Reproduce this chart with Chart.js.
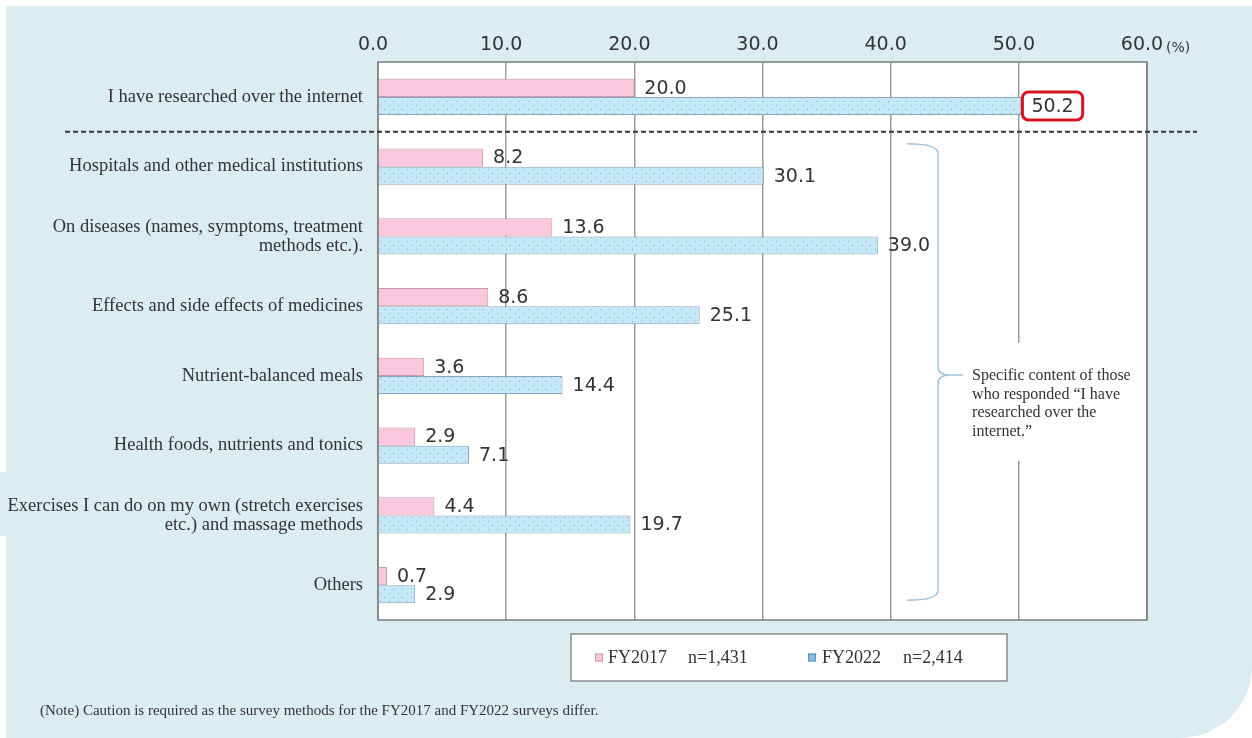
<!DOCTYPE html>
<html>
<head>
<meta charset="utf-8">
<script src="https://cdn.jsdelivr.net/npm/chart.js@4"></script>
<style>
  html, body { margin: 0; padding: 0; background: #fff; }
  canvas { display: block; }
</style>
</head>
<body>
<canvas id="surveyChart" width="1252" height="738"></canvas>
<script>
'use strict'

// ---- data ----
const categories = [
  'I have researched over the internet',
  'Hospitals and other medical institutions',
  ['On diseases (names, symptoms, treatment', 'methods etc.).'],
  'Effects and side effects of medicines',
  'Nutrient-balanced meals',
  'Health foods, nutrients and tonics',
  ['Exercises I can do on my own (stretch exercises', 'etc.) and massage methods'],
  'Others'
];
const fy2017 = [20.0, 8.2, 13.6, 8.6, 3.6, 2.9, 4.4, 0.7];
const fy2022 = [50.2, 30.1, 39.0, 25.1, 14.4, 7.1, 19.7, 2.9];
const seriesNames = ['FY2017', 'FY2022'];
const sampleSizes = ['n=1,431', 'n=2,414'];
const xTicks = [0, 10, 20, 30, 40, 50, 60];
const bracketText = ['Specific content of those', 'who responded \u201cI have', 'researched over the', 'internet.\u201d'];
const noteText = '(Note) Caution is required as the survey methods for the FY2017 and FY2022 surveys differ.';

const SANS = '"DejaVu Sans", sans-serif';
const SERIF = '"Liberation Serif", "Times New Roman", serif';
const TEXT = '#333';

// dotted light blue fill for FY2022
function dotPattern() {
  const c = document.createElement('canvas');
  c.width = 9; c.height = 8;
  const g = c.getContext('2d');
  g.fillStyle = '#c4e8f7';
  g.fillRect(0, 0, 9, 8);
  g.fillStyle = '#7aa6bf';
  g.fillRect(2, 1, 1, 1);
  g.fillRect(6, 5, 1, 1);
  return g.createPattern(c, 'repeat');
}

const pinkFill = '#f9c8dc';
const pinkLine = '#cc98af';
const blueLine = '#8aa4b8';

const decor = {
  id: 'decor',
  beforeDraw(chart) {
    const { ctx, chartArea: a, width, height } = chart;
    ctx.save();
    ctx.fillStyle = '#fff';
    ctx.fillRect(0, 0, width, height);
    // panel background, rounded bottom right
    ctx.fillStyle = '#dcedf1';
    ctx.beginPath();
    ctx.moveTo(6, 6);
    ctx.lineTo(width, 6);
    ctx.arcTo(width, height, width - 72, height, 72);
    ctx.lineTo(6, height);
    ctx.closePath();
    ctx.fill();
    ctx.fillRect(0, 472, 6, 64);
    // plot area
    ctx.fillStyle = '#fff';
    ctx.fillRect(a.left, a.top, a.width, a.height);
    ctx.restore();
  },
  afterDatasetsDraw(chart) {
    const { ctx, chartArea: a } = chart;
    const xs = chart.scales.x, ys = chart.scales.y;
    ctx.save();

    // frame
    ctx.strokeStyle = '#7c7c7c';
    ctx.lineWidth = 1.5;
    ctx.strokeRect(a.left, a.top, a.width, a.height);

    // value labels
    ctx.font = '19px ' + SANS;
    ctx.fillStyle = TEXT;
    ctx.textBaseline = 'middle';
    ctx.textAlign = 'left';
    chart.data.datasets.forEach((ds, di) => {
      chart.getDatasetMeta(di).data.forEach((bar, i) => {
        const txt = ds.data[i].toFixed(1);
        const tx = bar.x + 10;
        ctx.fillText(txt, tx, bar.y + 1);
        if (di === 1 && i === 0) {
          const w = ctx.measureText(txt).width;
          ctx.strokeStyle = '#d5141f';
          ctx.lineWidth = 3;
          ctx.beginPath();
          ctx.roundRect(tx - 9, bar.y - 14, w + 18, 28, 6);
          ctx.stroke();
        }
      });
    });

    // dashed separator under the first item
    const sepY = (ys.getPixelForValue(0) + ys.getPixelForValue(1)) / 2;
    ctx.strokeStyle = '#333';
    ctx.lineWidth = 2;
    ctx.setLineDash([5, 3]);
    ctx.beginPath();
    ctx.moveTo(65, sepY);
    ctx.lineTo(a.right + 50, sepY);
    ctx.stroke();
    ctx.setLineDash([]);

    // curly bracket over the detail items
    const bx = xs.getPixelForValue(43.7);
    const top = ys.getPixelForValue(1) - 23;
    const bot = ys.getPixelForValue(categories.length - 1) + 15;
    const mid = (top + bot) / 2 + 3;
    ctx.strokeStyle = '#9fc4de';
    ctx.lineWidth = 1.5;
    ctx.beginPath();
    ctx.moveTo(bx - 31, top);
    ctx.quadraticCurveTo(bx, top, bx, top + 10);
    ctx.lineTo(bx, mid - 8);
    ctx.quadraticCurveTo(bx, mid, bx + 12, mid);
    ctx.lineTo(bx + 25, mid);
    ctx.moveTo(bx + 12, mid);
    ctx.quadraticCurveTo(bx, mid, bx, mid + 8);
    ctx.lineTo(bx, bot - 10);
    ctx.quadraticCurveTo(bx, bot, bx - 31, bot);
    ctx.stroke();

    // note box for the bracket
    ctx.fillStyle = '#fff';
    ctx.fillRect(bx + 27, mid - 32, a.right - 8 - (bx + 27), 118);
    ctx.fillStyle = TEXT;
    ctx.font = '16px ' + SERIF;
    bracketText.forEach((line, k) => {
      ctx.fillText(line, bx + 34, mid + 1 + k * 18.7);
    });

    ctx.restore();
  },
  afterDraw(chart) {
    const { ctx } = chart;
    const xs = chart.scales.x;
    ctx.save();
    ctx.fillStyle = TEXT;
    ctx.textBaseline = 'middle';

    // unit after the last tick
    ctx.font = '14px ' + SANS;
    ctx.fillText('(%)', xs.getPixelForValue(60) + 19, 48);

    // legend box
    const lx = 571, ly = 634, lw = 436, lh = 47;
    ctx.fillStyle = '#fff';
    ctx.fillRect(lx, ly, lw, lh);
    ctx.strokeStyle = '#8a8a8a';
    ctx.lineWidth = 1.5;
    ctx.strokeRect(lx, ly, lw, lh);
    const items = [
      { icon: lx + 24, name: lx + 37, n: lx + 117, fill: pinkFill, line: pinkLine },
      { icon: lx + 237, name: lx + 251, n: lx + 332, fill: '#86bcdc', line: '#5f93b8' }
    ];
    const cy = ly + lh / 2;
    items.forEach((it, k) => {
      ctx.fillStyle = it.fill;
      ctx.fillRect(it.icon, cy - 4, 8, 8);
      ctx.strokeStyle = it.line;
      ctx.lineWidth = 1;
      ctx.strokeRect(it.icon + 0.5, cy - 3.5, 7, 7);
      ctx.fillStyle = TEXT;
      ctx.font = '18px ' + SERIF;
      ctx.fillText(seriesNames[k], it.name, cy + 1);
      ctx.fillText(sampleSizes[k], it.n, cy + 1);
    });

    // footnote
    ctx.font = '15px ' + SERIF;
    ctx.fillText(noteText, 40, 711, 598);
    ctx.restore();
  }
};

const ctx = document.getElementById('surveyChart').getContext('2d');
const surveyChart = new Chart(ctx, {
  type: 'bar',
  data: {
    labels: categories,
    datasets: [
      {
        label: seriesNames[0],
        data: fy2017,
        backgroundColor: pinkFill,
        borderColor: pinkLine,
        borderWidth: 1,
        barPercentage: 1,
        categoryPercentage: 0.52
      },
      {
        label: seriesNames[1],
        data: fy2022,
        backgroundColor: dotPattern(),
        borderColor: blueLine,
        borderWidth: 1,
        barPercentage: 1,
        categoryPercentage: 0.52
      }
    ]
  },
  options: {
    responsive: false,
    animation: false,
    devicePixelRatio: 1,
    indexAxis: 'y',
    layout: { padding: { top: 0, right: 105, bottom: 118, left: 0 } },
    plugins: {
      legend: { display: false },
      tooltip: { enabled: false }
    },
    scales: {
      x: {
        position: 'top',
        min: 0,
        max: 60,
        afterBuildTicks: s => { s.ticks = xTicks.map(v => ({ value: v })); },
        afterFit: s => { s.height = 62; },
        ticks: {
          callback: v => Number(v).toFixed(1),
          font: { family: SANS, size: 19 },
          color: TEXT,
          padding: 6,
          labelOffset: -5,
          maxRotation: 0,
          autoSkip: false
        },
        grid: { color: '#9c9c9c', lineWidth: 1.5, drawTicks: false },
        border: { display: false }
      },
      y: {
        afterFit: s => { s.width = 378; },
        ticks: {
          font: { family: SERIF, size: 18.5, lineHeight: 1.03 },
          color: TEXT,
          padding: 7,
          autoSkip: false
        },
        grid: { display: false },
        border: { display: false }
      }
    }
  },
  plugins: [decor]
});
</script>
</body>
</html>
